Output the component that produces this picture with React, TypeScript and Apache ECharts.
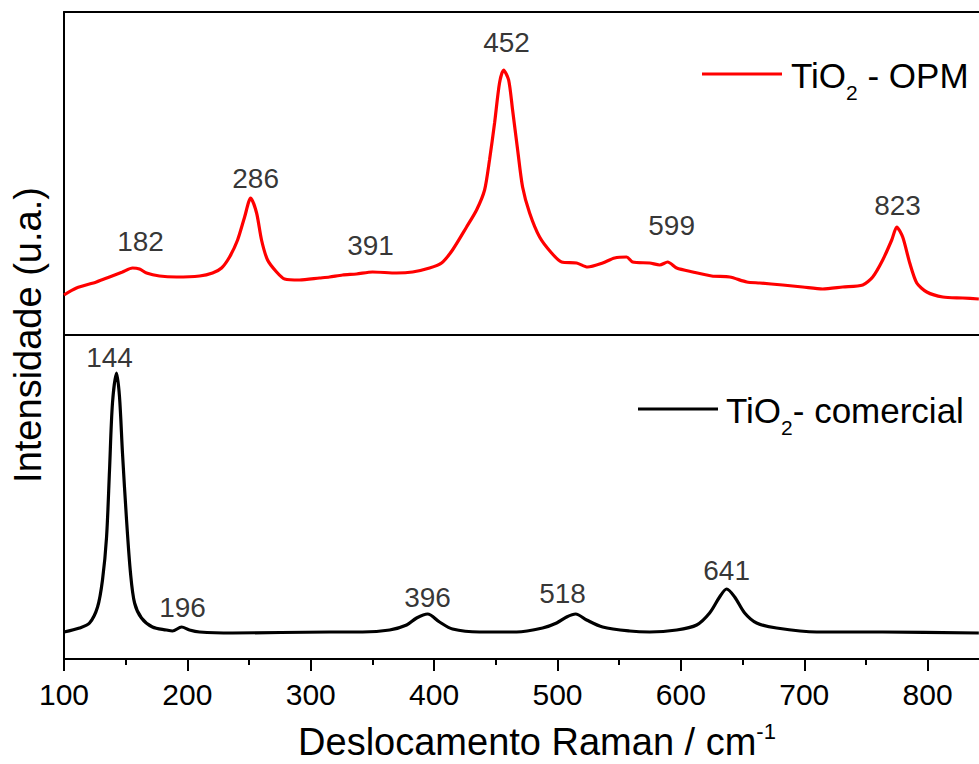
import React, { useEffect, useRef } from "react";
import * as echarts from "echarts";

// TiO2 - OPM spectrum (top panel), Raman shift (cm-1) vs intensity (a.u.)
const opmShift = [100, 110.1, 126.3, 136.9, 147.4, 155.5, 161.2, 166.9, 177.4, 191.2, 209.9, 220.4, 227.7, 234.2, 240.7, 246.4, 251.3, 256.1, 260.1, 265.0, 272.3, 278.8, 290.9, 307.1, 315.2, 325.8, 337.1, 350.1, 369.5, 382.5, 396.3, 406.0, 414.9, 426.3, 434.4, 440.9, 444.9, 449.0, 453.0, 456.3, 460.4, 463.6, 467.7, 471.7, 477.4, 485.5, 495.2, 503.3, 515.5, 524.4, 536.6, 546.3, 556.0, 560.9, 574.7, 582.8, 589.3, 596.6, 609.6, 625.0, 639.6, 653.4, 663.9, 682.5, 698.7, 714.9, 731.2, 747.4, 755.5, 763.6, 770.9, 775.0, 779.8, 785.5, 791.2, 799.3, 812.3, 828.5, 841.5];
const opmIntensity = [40, 47, 53, 58, 63, 67, 66, 62, 59, 58, 59, 62, 67, 78, 95, 118, 137, 122, 95, 75, 63, 56, 55, 57, 58, 60, 61, 63, 62, 63, 67, 72, 85, 108, 125, 145, 175, 212, 252, 265, 255, 225, 185, 148, 122, 98, 82, 73, 72, 68, 72, 77, 78, 73, 72, 70, 73, 67, 63, 59, 58, 53, 52, 50, 48, 46, 48, 50, 58, 75, 95, 108, 98, 72, 52, 43, 38, 37, 36];

// TiO2 - comercial spectrum (bottom panel)
const comShift = [100, 112.6, 120.7, 127.2, 131.2, 134.5, 136.9, 139.3, 142.6, 145.0, 147.4, 150.7, 153.9, 157.2, 162.8, 171.7, 183.1, 187.9, 195.3, 201.7, 209.9, 236.6, 315.2, 342.0, 363.9, 377.7, 385.8, 394.7, 404.4, 414.9, 436.8, 466.8, 487.9, 499.3, 507.4, 514.7, 523.6, 536.6, 558.5, 574.7, 596.6, 612.8, 623.3, 631.4, 637.1, 643.6, 651.7, 661.4, 677.6, 710.1, 763.6, 841.5];
const comIntensity = [27, 31, 36, 52, 79, 122, 189, 256, 286, 262, 206, 139, 86, 56, 41, 32, 29, 28, 32, 29, 27, 26, 27, 27, 29, 34, 41, 45, 37, 30, 27, 27, 31, 36, 42, 45, 39, 32, 28, 27, 29, 34, 46, 62, 70, 62, 46, 36, 31, 27, 27, 26];

// Peak annotations
const opmPeakText = ["182", "286", "391", "452", "599", "823"];
const opmPeakX = [162.0, 255.3, 348.5, 458.7, 592.5, 775.6];
const opmPeakY = [94, 157, 90, 293, 110, 130];
const comPeakText = ["144", "196", "396", "518", "641"];
const comPeakX = [136.9, 196.1, 394.7, 504.1, 637.1];
const comPeakY = [302, 52, 62, 66, 89];

const FONT = "'Liberation Sans', Arial, Helvetica, sans-serif";

export default function App() {
  const ref = useRef<HTMLDivElement>(null);
  useEffect(() => {
    document.body.style.margin = "0";
    if (!ref.current) return;
    const chart = echarts.init(ref.current, null, { renderer: "svg" });
    const axisLineStyle = { color: "#000", width: 2 };
    const hiddenX = (grid: number, pos: string) => ({
      gridIndex: grid,
      type: "value",
      min: 100,
      max: 900,
      interval: 100,
      position: pos,
      axisLine: { show: true, onZero: false, lineStyle: axisLineStyle },
      axisTick: { show: false },
      axisLabel: { show: false },
      splitLine: { show: false },
    });
    const peakSeries = (xi: number, yi: number, xs: number[], ys: number[], txt: string[]) => ({
      type: "scatter",
      xAxisIndex: xi,
      yAxisIndex: yi,
      symbolSize: 1,
      silent: true,
      itemStyle: { color: "rgba(0,0,0,0)" },
      data: xs.map((x, i) => ({ name: txt[i], value: [x, ys[i]] })),
      label: {
        show: true,
        position: "inside",
        formatter: "{b}",
        color: "#000",
        fontSize: 28,
        fontFamily: FONT,
      },
      z: 5,
    });
    chart.setOption({
      animation: false,
      backgroundColor: "#fff",
      grid: [
        { left: 64, right: -72, top: 12, height: 323, outerBoundsMode: "none", containLabel: false },
        { left: 64, right: -72, top: 335, height: 324, outerBoundsMode: "none", containLabel: false },
      ],
      xAxis: [
        hiddenX(0, "bottom"),
        hiddenX(0, "top"),
        {
          gridIndex: 1,
          type: "value",
          min: 100,
          max: 900,
          interval: 100,
          position: "bottom",
          axisLine: { show: true, onZero: false, lineStyle: axisLineStyle },
          axisTick: { show: true, inside: false, length: 12, lineStyle: { color: "#000", width: 2 } },
          minorTick: { show: true, splitNumber: 2, length: 6, lineStyle: { color: "#000", width: 2 } },
          axisLabel: {
            show: true,
            margin: 20,
            fontSize: 30,
            color: "#000",
            fontFamily: FONT,
            showMaxLabel: false,
            formatter: (v: number) => (v > 800 ? "" : String(v)),
          },
          splitLine: { show: false },
          minorSplitLine: { show: false },
        },
      ],
      yAxis: [
        {
          gridIndex: 0,
          type: "value",
          min: 0,
          max: 323,
          axisLine: { show: true, onZero: false, lineStyle: axisLineStyle },
          axisTick: { show: false },
          axisLabel: { show: false },
          splitLine: { show: false },
        },
        {
          gridIndex: 1,
          type: "value",
          min: 0,
          max: 324,
          axisLine: { show: true, onZero: false, lineStyle: axisLineStyle },
          axisTick: { show: false },
          axisLabel: { show: false },
          splitLine: { show: false },
        },
      ],
      series: [
        {
          name: "TiO2 - OPM",
          type: "line",
          xAxisIndex: 0,
          yAxisIndex: 0,
          data: opmShift.map((x, i) => [x, opmIntensity[i]]),
          showSymbol: false,
          smooth: 0.25,
          lineStyle: { color: "#ff0000", width: 3.2 },
          silent: true,
        },
        {
          name: "TiO2- comercial",
          type: "line",
          xAxisIndex: 2,
          yAxisIndex: 1,
          data: comShift.map((x, i) => [x, comIntensity[i]]),
          showSymbol: false,
          smooth: 0.3,
          lineStyle: { color: "#000", width: 3.2 },
          silent: true,
        },
        peakSeries(0, 0, opmPeakX, opmPeakY, opmPeakText),
        peakSeries(2, 1, comPeakX, comPeakY, comPeakText),
      ],
      graphic: [
        {
          type: "line",
          shape: { x1: 702, y1: 74, x2: 782, y2: 74 },
          style: { stroke: "#ff0000", lineWidth: 3.2 },
        },
        {
          type: "text",
          x: 791,
          y: 75,
          style: {
            text: "{m|TiO}{s|2}{m| - OPM}",
            textAlign: "left",
            textVerticalAlign: "middle",
            rich: {
              m: { fontSize: 35, lineHeight: 56, fontFamily: FONT, fill: "#000" },
              s: { fontSize: 21, lineHeight: 21, verticalAlign: "bottom", fontFamily: FONT, fill: "#000" },
            },
          },
        },
        {
          type: "line",
          shape: { x1: 638, y1: 409, x2: 718, y2: 409 },
          style: { stroke: "#000", lineWidth: 3.2 },
        },
        {
          type: "text",
          x: 726,
          y: 410,
          style: {
            text: "{m|TiO}{s|2}{m|- comercial}",
            textAlign: "left",
            textVerticalAlign: "middle",
            rich: {
              m: { fontSize: 35, lineHeight: 56, fontFamily: FONT, fill: "#000" },
              s: { fontSize: 21, lineHeight: 21, verticalAlign: "bottom", fontFamily: FONT, fill: "#000" },
            },
          },
        },
        {
          type: "text",
          x: 28,
          y: 335,
          rotation: Math.PI / 2,
          style: {
            text: "Intensidade (u.a.)",
            textAlign: "center",
            textVerticalAlign: "middle",
            fontSize: 38,
            fontFamily: FONT,
            fill: "#000",
          },
        },
        {
          type: "text",
          x: 537,
          y: 742,
          style: {
            text: "{m|Deslocamento Raman / cm}{p|-1}",
            textAlign: "center",
            textVerticalAlign: "middle",
            rich: {
              m: { fontSize: 38, lineHeight: 44, fontFamily: FONT, fill: "#000" },
              p: { fontSize: 22, lineHeight: 22, verticalAlign: "top", fontFamily: FONT, fill: "#000" },
            },
          },
        },
      ],
    });
    return () => chart.dispose();
  }, []);
  return <div ref={ref} style={{ width: 979, height: 764 }} />;
}
